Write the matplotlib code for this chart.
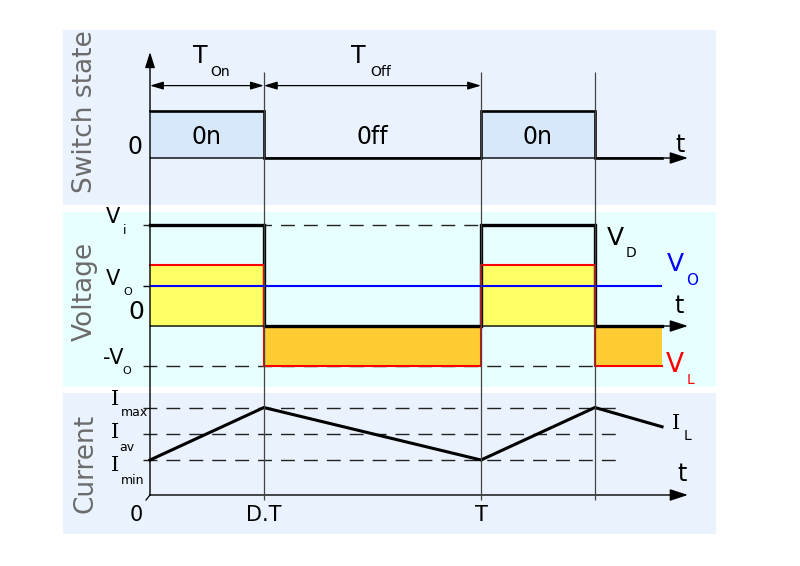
import matplotlib.pyplot as plt

# time axis, in units of the switching period T
DUTY = 0.344
t_edges = [0.0, DUTY, 1.0, 1.0 + DUTY, 1.547]
t_marks = [DUTY, 1.0, 1.0 + DUTY]
t_labels = ['0', 'D.T', 'T']
t_ticks = [0.0, DUTY, 1.0]

# switch state (1 = on)
switch_state = [1, 0, 1, 0, 0]
state_names = ['0n', '0ff', '0n']

# voltages
VI = 10.0
VO = 4.0
v_d = [VI, 0, VI, 0, 0]
v_l = [VI - VO, -VO, VI - VO, -VO, -VO]

# inductor current
I_MIN, I_AV, I_MAX = 2.0, 3.5, 5.0
i_l = [I_MIN, I_MAX, I_MIN, I_MAX, 3.9]

W, H = 800, 566
X0, PX_T = 150, 331   # pixel of t=0, pixels per period
T_END = 1.625         # tip of the t arrows

BG_BLUE = '#e9f2fd'
BG_CYAN = '#e8ffff'
BOX = '#d7e8fb'
YELLOW = '#ffff66'
ORANGE = '#ffcc33'
GREY = '#6b6b6b'
DASH = dict(color='#222222', lw=1.0, linestyles=(0, (10, 6.5)))

fig = plt.figure(figsize=(W / 100, H / 100), dpi=100)


def panel(top, bottom, ylim, color):
    ax = fig.add_axes([63 / W, 1 - bottom / H, 653 / W, (bottom - top) / H])
    ax.set_xlim((63 - X0) / PX_T, (716 - X0) / PX_T)
    ax.set_ylim(*ylim)
    ax.set_facecolor(color)
    ax.set_xticks([])
    ax.set_yticks([])
    for s in ax.spines.values():
        s.set_visible(False)
    return ax


def arrow(ax, start, end, style='-|>,head_length=1.1,head_width=0.36', lw=1.0):
    ax.annotate('', xy=end, xytext=start,
                arrowprops=dict(arrowstyle=style, mutation_scale=10, lw=lw,
                                color='k', shrinkA=0, shrinkB=0))


def sub_label(ax, x, y, big, small, dx, dy, size=15, ssize=9, color='k', family=None):
    ax.text(x, y, big, fontsize=size, color=color, ha='center', va='center', family=family)
    ax.text(x + dx, y + dy, small, fontsize=ssize, color=color, ha='center', va='center')


# ---- switch state ----
ax1 = panel(30, 205, (-1.0, 2.723), BG_BLUE)
arrow(ax1, (0, 0), (T_END, 0))
ax1.fill_between(t_edges, 0, switch_state, step='post', color=BOX, lw=0)
ax1.step(t_edges, switch_state, where='post', color='k', lw=1.9,
         solid_joinstyle='miter')
for i, name in enumerate(state_names):
    ax1.text((t_edges[i] + t_edges[i + 1]) / 2, 0.45, name, fontsize=17,
             ha='center', va='center')
dim = '<|-|>,head_length=0.8,head_width=0.24'
arrow(ax1, (0, 1.54), (DUTY, 1.54), dim, lw=0.9)
arrow(ax1, (DUTY, 1.54), (1.0, 1.54), dim, lw=0.9)
sub_label(ax1, 0.151, 2.17, 'T', 'On', 0.06, -0.34, size=17, ssize=10)
sub_label(ax1, 0.628, 2.17, 'T', 'Off', 0.07, -0.34, size=17, ssize=10)
ax1.text(-0.045, 0.23, '0', fontsize=17, ha='center', va='center')
ax1.text(1.601, 0.28, 't', fontsize=17, ha='center', va='center')
ax1.text(-0.196, 0.98, 'Switch state', fontsize=19, color=GREY,
         rotation=90, ha='center', va='center')

# ---- voltage ----
ax2 = panel(212, 387, (-6.04, 11.29), BG_CYAN)
ax2.hlines(VI, -0.021, 1.0, **DASH)
ax2.hlines(-VO, -0.021, 1.0 + DUTY, **DASH)
ax2.hlines(VO, -0.021, 0, color='k', lw=1.0)
arrow(ax2, (0, 0), (T_END, 0))
ax2.fill_between(t_edges, 0, [max(v, 0) for v in v_l], step='post', color=YELLOW, lw=0)
ax2.fill_between(t_edges, [min(v, 0) for v in v_l], 0, step='post', color=ORANGE, lw=0)
ax2.step(t_edges, v_d, where='post', color='k', lw=2.4, solid_joinstyle='miter')
ax2.step(t_edges, v_l, where='post', color='#ff0000', lw=1.5, solid_joinstyle='miter')
ax2.hlines(VO, 0, t_edges[-1], color='#0000ff', lw=1.5)
sub_label(ax2, -0.112, 10.8, 'V', 'i', 0.036, -1.3)
sub_label(ax2, -0.112, 4.65, 'V', 'O', 0.046, -1.28, ssize=8)
sub_label(ax2, -0.112, -3.17, '-V', 'O', 0.043, -1.29, ssize=8)
ax2.text(-0.042, 1.35, '0', fontsize=18, ha='center', va='center')
sub_label(ax2, 1.405, 8.71, 'V', 'D', 0.048, -1.48, size=18, ssize=10)
sub_label(ax2, 1.586, 6.14, 'V', 'O', 0.051, -1.59, size=18, ssize=11, color='#0000ff')
sub_label(ax2, 1.586, -3.86, 'V', 'L', 0.048, -1.49, size=19, ssize=10, color='#ff0000')
ax2.text(1.598, 1.98, 't', fontsize=17, ha='center', va='center')
ax2.text(-0.196, 3.47, 'Voltage', fontsize=19, color=GREY,
         rotation=90, ha='center', va='center')

# ---- current ----
ax3 = panel(393, 534, (-2.23, 5.83), BG_BLUE)
for lvl in (I_MAX, I_AV, I_MIN):
    ax3.hlines(lvl, -0.021, 1.426, **DASH)
arrow(ax3, (0, 0), (T_END, 0))
ax3.plot(t_edges, i_l, color='k', lw=2.2, solid_joinstyle='miter')
serif = 'DejaVu Serif'
sub_label(ax3, -0.106, 5.43, 'I', 'max', 0.058, -0.74, size=15, ssize=9, family=serif)
sub_label(ax3, -0.106, 3.60, 'I', 'av', 0.037, -0.86, size=15, ssize=9, family=serif)
sub_label(ax3, -0.106, 1.66, 'I', 'min', 0.052, -0.86, size=15, ssize=9, family=serif)
sub_label(ax3, 1.589, 4.06, 'I', 'L', 0.036, -0.69, size=15, ssize=10, family=serif)
ax3.text(1.607, 1.2, 't', fontsize=17, ha='center', va='center')
for x, lab in zip(t_ticks, t_labels):
    ax3.text(x - (0.042 if lab == '0' else 0), -1.12, lab, fontsize=15,
             ha='center', va='center')
ax3.text(-0.196, 1.83, 'Current', fontsize=19, color=GREY,
         rotation=90, ha='center', va='center')

# ---- overlay: vertical guides and the common y axis ----
ov = fig.add_axes([0, 0, 1, 1])
ov.set_xlim(-X0 / PX_T, (W - X0) / PX_T)
ov.set_ylim(H, 0)
ov.set_axis_off()
ov.vlines(t_marks, 72, 500, color='#444444', lw=0.9)
arrow(ov, (0, 495), (0, 52), '-|>,head_length=0.95,head_width=0.3', lw=1.0)
ov.plot([0, -4 / PX_T], [495, 500], color='k', lw=0.9)

fig.savefig('out.png', dpi=100, facecolor='white')
